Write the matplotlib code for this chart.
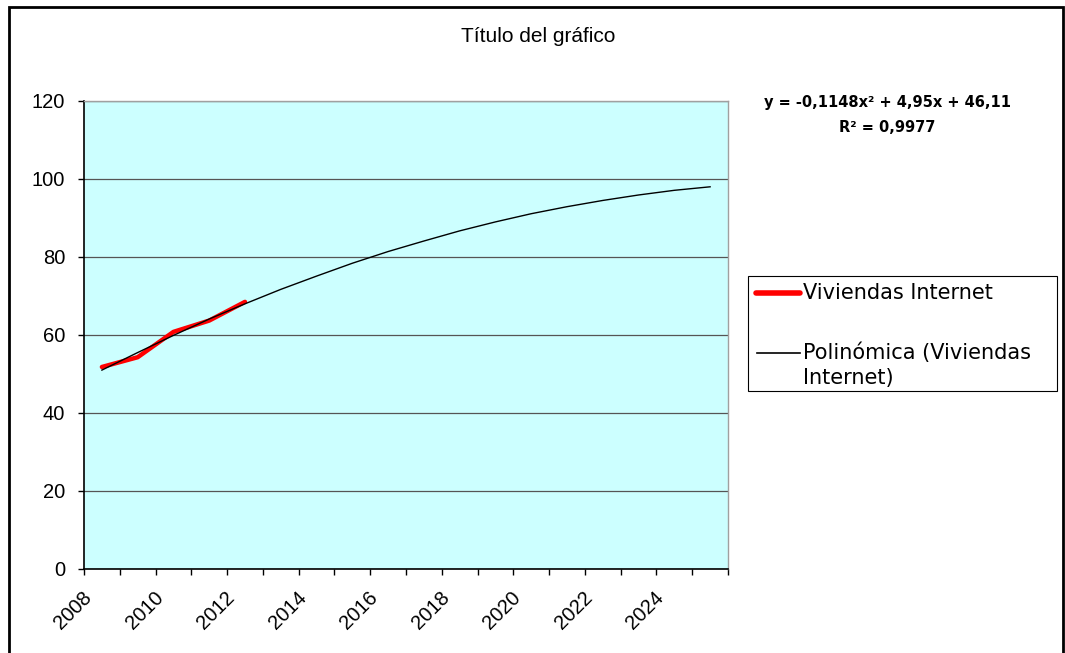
import matplotlib.pyplot as plt
from matplotlib.lines import Line2D
from matplotlib.patches import Rectangle

# datos
anios = [2008, 2009, 2010, 2011, 2012, 2013, 2014, 2015, 2016, 2017,
         2018, 2019, 2020, 2021, 2022, 2023, 2024, 2025]
viviendas = [51.8, 54.3, 60.8, 63.7, 68.5]
tendencia = [51.0, 55.5, 59.9, 64.1, 68.0, 71.7, 75.1, 78.4, 81.4, 84.1,
             86.7, 89.0, 91.1, 92.9, 94.5, 95.9, 97.1, 98.0]
ticks_y = [0, 20, 40, 60, 80, 100, 120]

W, H = 1065, 653


def fx(px):
    return px / W


def fy(py):
    return 1 - py / H


fig = plt.figure(figsize=(10.65, 6.53), dpi=100)
ax = fig.add_axes([fx(84), fy(569), (728 - 84) / W, (569 - 101) / H])
ax.set_facecolor('#ccffff')

x_cat = list(range(1, len(anios) + 1))
ax.plot(x_cat[:len(viviendas)], viviendas, color='red', lw=3.2, zorder=3,
        solid_capstyle='round')
ax.plot(x_cat, tendencia, color='black', lw=1.0, zorder=4)

ax.set_xlim(0.5, len(anios) + 0.5)
ax.set_ylim(0, 120)
ax.set_yticks(ticks_y)
ax.yaxis.grid(True, color='#555555', lw=0.9)
ax.set_axisbelow(True)

# ticks en los limites de categoria, etiquetas cada dos anios
ax.set_xticks([i + 0.5 for i in range(0, len(anios) + 1)])
ax.set_xticklabels([])
for c, a in zip(x_cat[::2], anios[::2]):
    ax.annotate(str(a), xy=(c, 0), xycoords=('data', 'axes fraction'),
                xytext=(-20, -19), textcoords='offset pixels', rotation=45,
                ha='right', va='top', rotation_mode='anchor',
                fontsize=14.5, family='Liberation Sans', annotation_clip=False)
ax.tick_params(axis='x', which='major', length=4.5, width=1, color='black')
ax.tick_params(axis='y', length=4.5, width=1, labelsize=14.5, pad=9)
for lab in ax.get_yticklabels():
    lab.set_family('Liberation Sans')

for s in ['left', 'bottom']:
    ax.spines[s].set_color('black')
    ax.spines[s].set_linewidth(1.2)
for s in ['top', 'right']:
    ax.spines[s].set_color('#a0a0a0')
    ax.spines[s].set_linewidth(1.0)

fig.text(fx(538), fy(37), 'Título del gráfico', ha='center', va='center',
         fontsize=15, family='Liberation Sans')
fig.text(fx(887), fy(103), 'y = -0,1148x² + 4,95x + 46,11', ha='center',
         va='center', fontsize=10.5, fontweight='bold', family='DejaVu Sans')
fig.text(fx(887), fy(128), 'R² = 0,9977', ha='center', va='center',
         fontsize=10.5, fontweight='bold', family='DejaVu Sans')

# leyenda (como en Excel: la linea va a la altura de la primera linea del texto)
fig.add_artist(Rectangle((fx(748), fy(391)), (1057 - 748) / W, (391 - 276) / H,
                         transform=fig.transFigure, fill=False,
                         edgecolor='black', lw=0.8))
fig.add_artist(Line2D([fx(756), fx(800)], [fy(293), fy(293)], color='red', lw=4,
                      solid_capstyle='round', transform=fig.transFigure))
fig.add_artist(Line2D([fx(757), fx(800)], [fy(353), fy(353)], color='black', lw=1.2,
                      transform=fig.transFigure))
leyenda = {'family': 'DejaVu Sans', 'size': 15}
fig.text(fx(803), fy(293), 'Viviendas Internet', va='center', fontdict=leyenda)
fig.text(fx(803), fy(353), 'Polinómica (Viviendas', va='center', fontdict=leyenda)
fig.text(fx(803), fy(378), 'Internet)', va='center', fontdict=leyenda)

# marco exterior del grafico
fig.add_artist(Rectangle((fx(9), -0.05), (1063 - 9) / W, 1.05 - 7 / H,
                         transform=fig.transFigure, fill=False,
                         edgecolor='black', lw=2))

fig.savefig('out.png', dpi=100)
